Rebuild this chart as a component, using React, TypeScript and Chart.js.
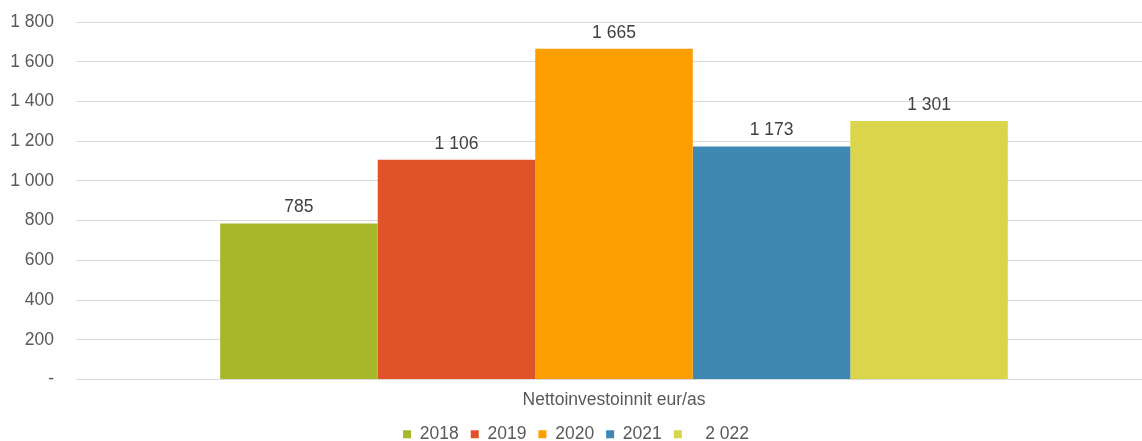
import React, { useEffect, useRef } from "react";
import { Chart, registerables } from "chart.js";

Chart.register(...registerables);

const categories = ["Nettoinvestoinnit eur/as"];
const seriesLabels = ["2018", "2019", "2020", "2021", "   2 022"];
const seriesValues = [785, 1106, 1665, 1173, 1301];
const seriesColors = ["#a6b727", "#e05328", "#fd9e00", "#3e88b3", "#dad54a"];
const yTicks = [0, 200, 400, 600, 800, 1000, 1200, 1400, 1600, 1800];

const fmt = (v: number) =>
  v === 0 ? "-" : String(v).replace(/\B(?=(\d{3})+(?!\d))/g, " ");

const FONT = "'Liberation Sans', Arial, sans-serif";
const FS = 17.5;

const valueLabels = {
  id: "valueLabels",
  afterDatasetsDraw(chart: any) {
    const ctx = chart.ctx;
    ctx.save();
    ctx.font = `${FS}px ${FONT}`;
    ctx.fillStyle = "#404040";
    ctx.textAlign = "center";
    ctx.textBaseline = "middle";
    chart.data.datasets.forEach((ds: any, i: number) => {
      const meta = chart.getDatasetMeta(i);
      meta.data.forEach((bar: any, j: number) => {
        ctx.fillText(fmt(ds.data[j]), bar.x, bar.y - 16);
      });
    });
    ctx.restore();
  },
};

export default function App() {
  const ref = useRef<HTMLCanvasElement>(null);
  useEffect(() => {
    if (!ref.current) return;
    const chart = new Chart(ref.current, {
      type: "bar",
      data: {
        labels: categories,
        datasets: seriesLabels.map((l, i) => ({
          label: l,
          data: [seriesValues[i]],
          backgroundColor: seriesColors[i],
          borderWidth: 0,
          categoryPercentage: 0.732,
          barPercentage: 1,
        })),
      },
      options: {
        animation: false,
        responsive: false,
        maintainAspectRatio: false,
        layout: { padding: { top: 22, right: 8, left: 0, bottom: -12 } },
        plugins: {
          tooltip: { enabled: false },
          legend: {
            position: "bottom",
            labels: {
              boxWidth: 8,
              boxHeight: 8,
              padding: 12,
              color: "#595959",
              font: { size: FS, family: FONT },
            },
          },
        },
        scales: {
          x: {
            grid: { display: false, drawTicks: false },
            border: { display: false },
            afterFit: (s: any) => {
              s.height = 34;
            },
            ticks: {
              color: "#595959",
              font: { size: FS, family: FONT },
              padding: 10,
            },
          },
          y: {
            min: 0,
            max: 1800,
            afterBuildTicks: (s: any) => {
              s.ticks = yTicks.map((v) => ({ value: v }));
            },
            afterFit: (s: any) => {
              s.width = 76;
              s.paddingTop = 0;
              s.paddingBottom = 0;
            },
            grid: { color: "#d9d9d9", lineWidth: 1, drawTicks: false },
            border: { display: false },
            ticks: {
              color: "#595959",
              font: { size: FS, family: FONT },
              padding: 22,
              callback: (v: any) => fmt(Number(v)),
            },
          },
        },
      },
      plugins: [valueLabels],
    });
    return () => chart.destroy();
  }, []);
  return (
    <div
      style={{
        position: "fixed",
        left: 0,
        top: 0,
        width: 1142,
        height: 441,
        overflow: "hidden",
        background: "#fff",
      }}
    >
      <canvas ref={ref} width={1160} height={441} />
    </div>
  );
}
